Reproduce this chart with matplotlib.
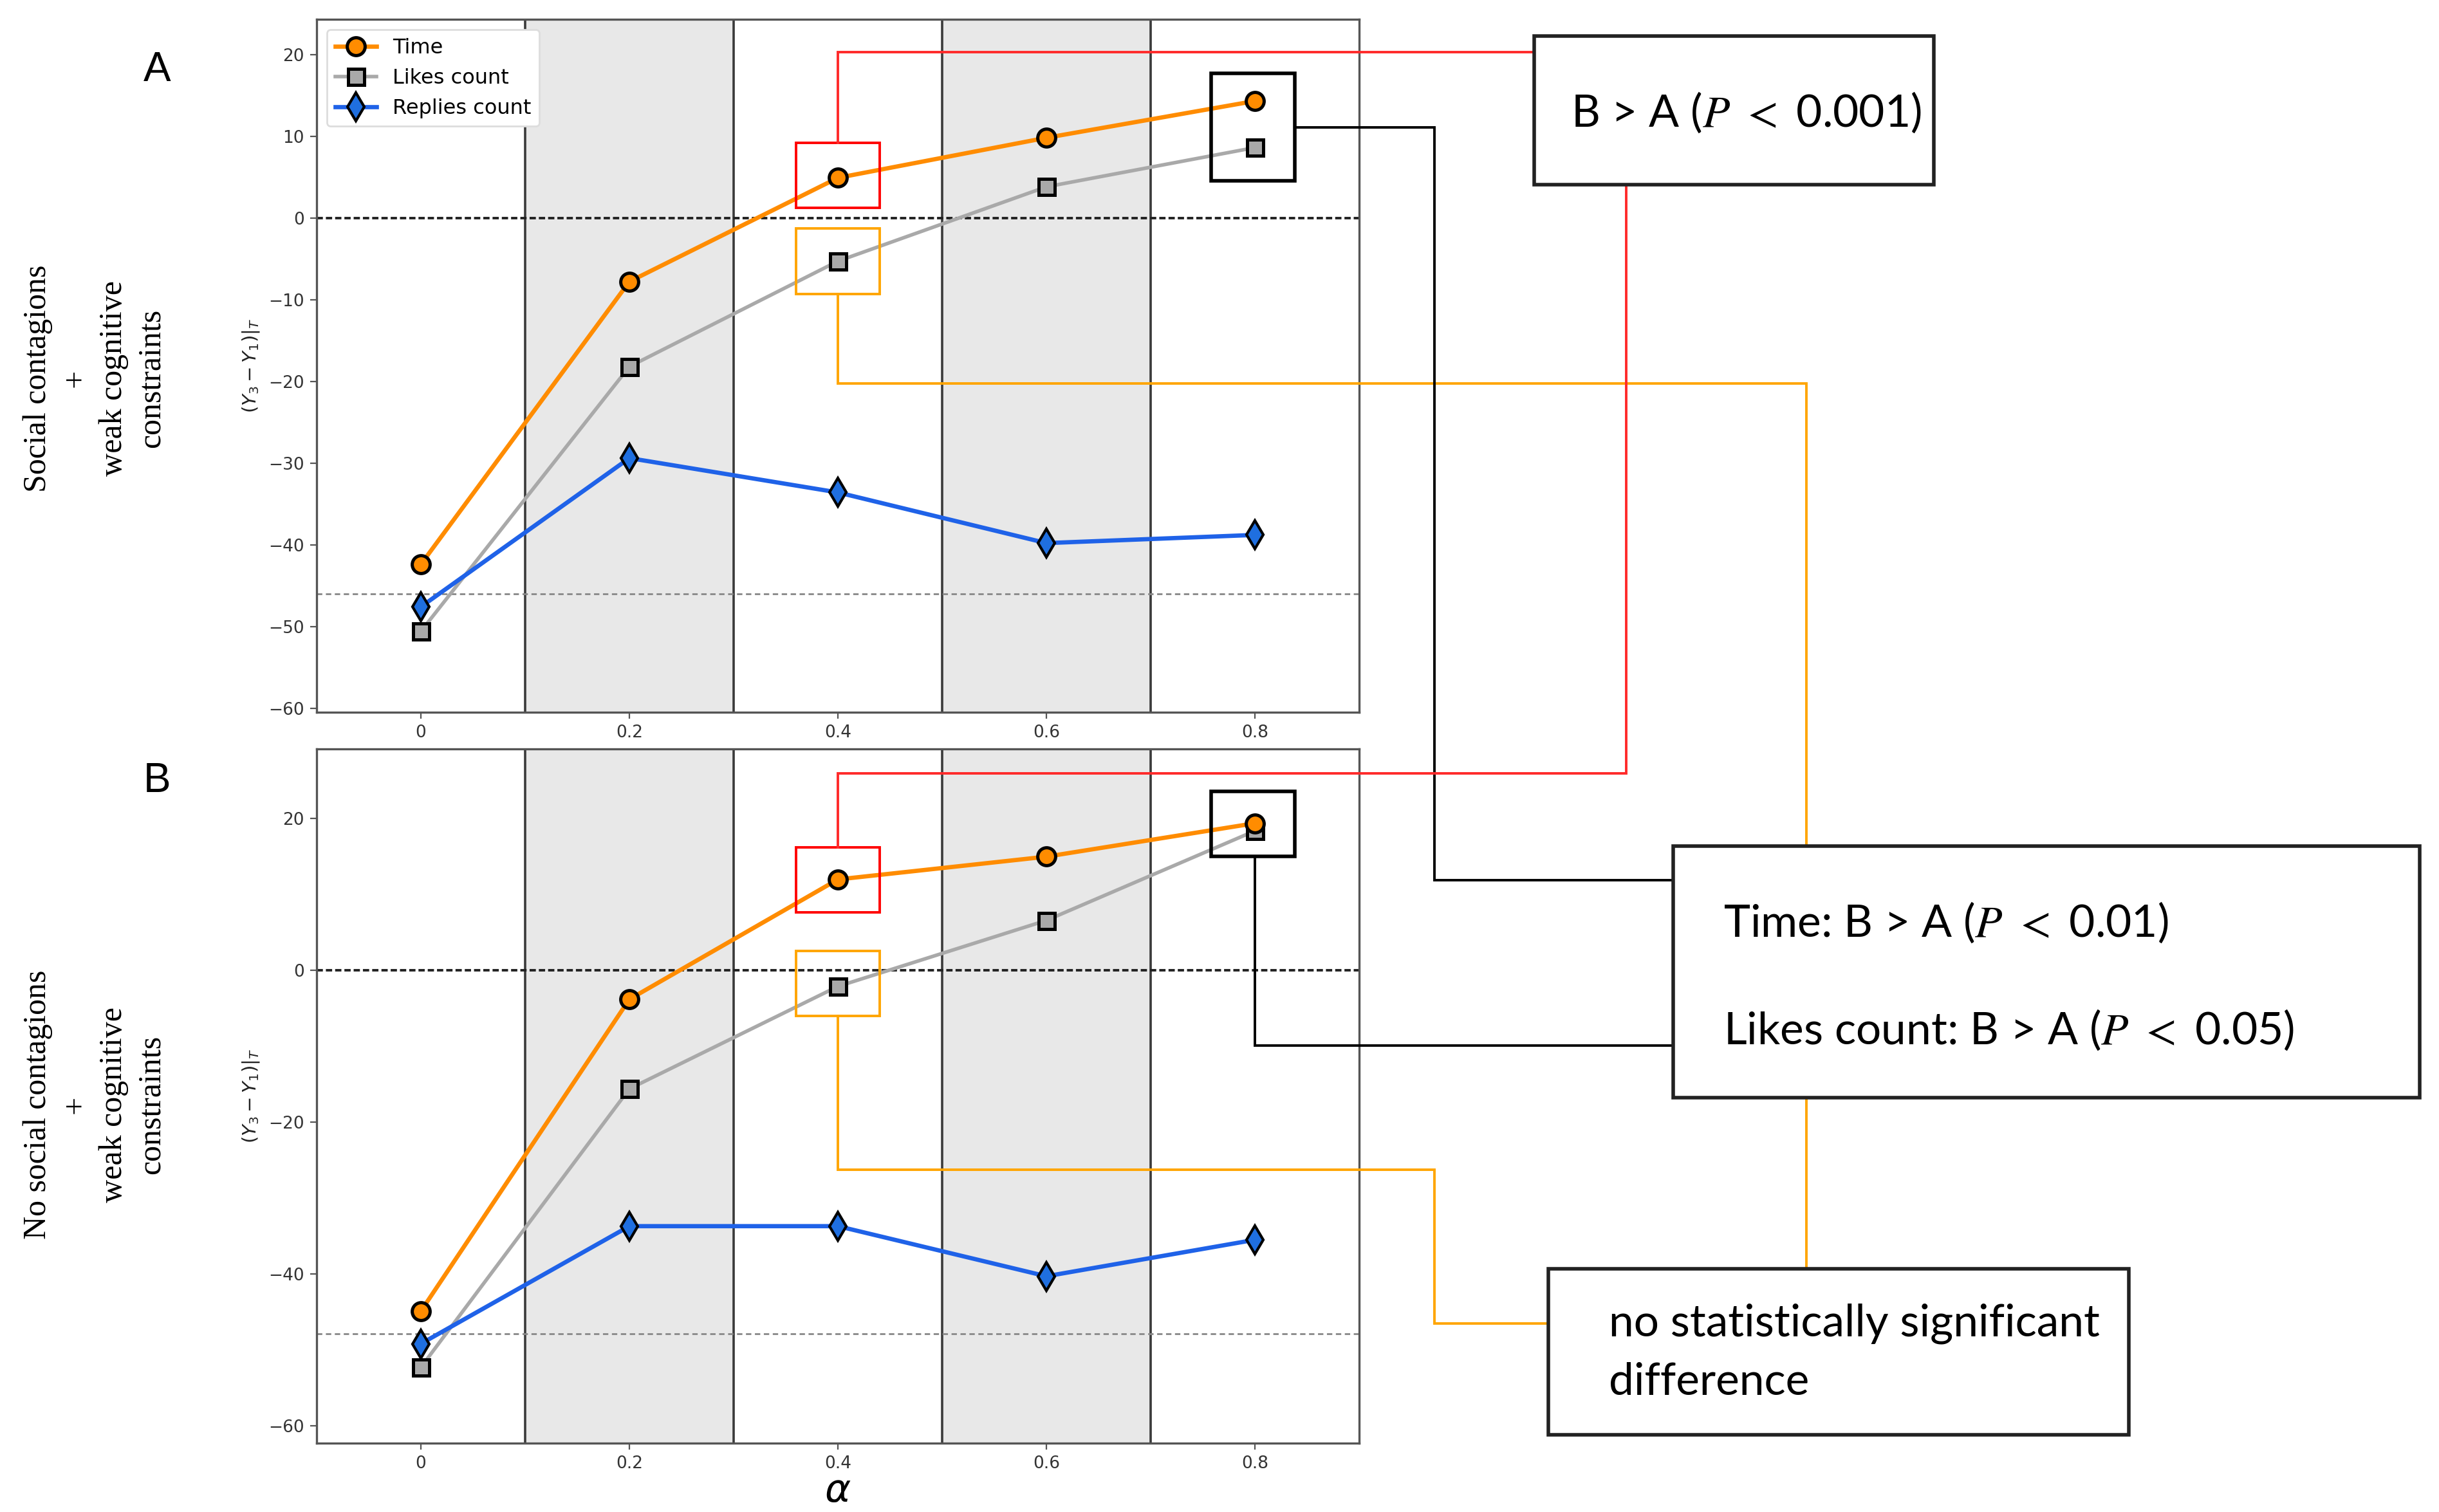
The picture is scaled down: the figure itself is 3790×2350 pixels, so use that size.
import matplotlib.pyplot as plt
from matplotlib.patches import Rectangle

# values
alpha = [0, 0.2, 0.4, 0.6, 0.8]
xtick_labels = ['0', '0.2', '0.4', '0.6', '0.8']

time_a = [-42.4, -7.8, 4.9, 9.8, 14.3]
likes_a = [-50.6, -18.2, -5.3, 3.8, 8.6]
replies_a = [-47.6, -29.4, -33.6, -39.8, -38.8]
base_a = -46.0

time_b = [-44.9, -3.8, 12.0, 15.0, 19.4]
likes_b = [-52.3, -15.6, -2.1, 6.6, 18.4]
replies_b = [-49.2, -33.7, -33.7, -40.3, -35.5]
base_b = -47.9

W, H = 3791, 2350
DPI = 200
fig = plt.figure(figsize=(W / DPI, H / DPI), dpi=DPI)

axA = fig.add_axes([492 / W, 1 - 1107 / H, 1620 / W, 1077 / H])
axB = fig.add_axes([492 / W, 1 - 2243 / H, 1620 / W, 1079 / H])


def panel(ax, t, l, r, base, ylim, yticks):
    for x0 in (0.1, 0.5):
        ax.axvspan(x0, x0 + 0.2, color='#e8e8e8', zorder=0)
    for xv in (0.1, 0.3, 0.5, 0.7):
        ax.axvline(xv, color='#3a3a3a', lw=1.3, zorder=1)
    ax.axhline(0, color='#222222', ls=(0, (2.5, 1.2)), lw=1.4, zorder=2)
    ax.axhline(base, color='#888888', ls=(0, (3, 2)), lw=1.0, zorder=2)
    ax.plot(alpha, t, '-o', color='darkorange', mfc='darkorange', mec='black',
            mew=1.8, ms=10, lw=2.4, label='Time', zorder=5)
    ax.plot(alpha, l, '-s', color='darkgray', mfc='darkgray', mec='black',
            mew=1.8, ms=9, lw=2.0, label='Likes count', zorder=4)
    ax.plot(alpha, r, '-d', color='#1f62e8', mfc='#1f6fe0', mec='black',
            mew=1.5, ms=11, lw=2.4, label='Replies count', zorder=4)
    ax.set_xlim(-0.1, 0.9)
    ax.set_ylim(*ylim)
    ax.set_xticks(alpha)
    ax.set_xticklabels(xtick_labels)
    ax.set_yticks(yticks)
    ax.tick_params(labelsize=9.5, labelcolor='#333333', color='#555555')
    ax.set_ylabel(r'$(Y_3 - Y_1)|_T$', fontsize=10.5, color='#222222', labelpad=4)
    for s in ax.spines.values():
        s.set_color('#555555')
        s.set_linewidth(1.2)


panel(axA, time_a, likes_a, replies_a, base_a, (-60.5, 24.3), range(-60, 21, 10))
panel(axB, time_b, likes_b, replies_b, base_b, (-62.3, 29.2), range(-60, 21, 20))
axA.legend(loc='upper left', fontsize=11.5, framealpha=1, edgecolor='#dddddd')
axB.set_xlabel(r'$\alpha$', fontsize=22, labelpad=0)

# boxes around the compared points (data coords)
boxes = [
    (axA, 0.36, 1.2, 0.08, 8.0, 'red'),
    (axA, 0.36, -9.3, 0.08, 8.0, 'orange'),
    (axA, 0.758, 4.5, 0.08, 13.2, 'black'),
    (axB, 0.36, 7.7, 0.08, 8.5, 'red'),
    (axB, 0.36, -6.0, 0.08, 8.6, 'orange'),
    (axB, 0.758, 15.0, 0.08, 8.6, 'black'),
]
for ax, x0, y0, w, h, c in boxes:
    ax.add_patch(Rectangle((x0, y0), w, h, fill=False, ec=c,
                           lw=2.0 if c == 'black' else 1.4, zorder=6, clip_on=False))

fig.canvas.draw()


def px(ax, x, y):
    X, Y = ax.transData.transform((x, y))
    return X, H - Y


ov = fig.add_axes([0, 0, 1, 1], zorder=10)
ov.set_xlim(0, W)
ov.set_ylim(H, 0)
ov.axis('off')


def path(pts, color, lw=1.4):
    xs = [p[0] for p in pts]
    ys = [p[1] for p in pts]
    ov.plot(xs, ys, color=color, lw=lw, solid_joinstyle='miter', zorder=1)


red_c = '#ff2a2a'
org_c = '#ffa500'
xa, ya = px(axA, 0.4, 9.2)
path([(xa, ya), (xa, 81), (2384, 81)], red_c)
xa, ya = px(axA, 0.4, -9.3)
path([(xa, ya), (xa, 596), (2807, 596), (2807, 1972)], org_c)
xa, _ = px(axA, 0.838, 0)
path([(xa, 198), (2229, 198), (2229, 1368), (2600, 1368)], 'black')
xb, yb = px(axB, 0.4, 16.2)
path([(xb, yb), (xb, 1202), (2527, 1202), (2527, 287)], red_c)
xb, yb = px(axB, 0.4, -6.0)
path([(xb, yb), (xb, 1818), (2229, 1818), (2229, 2057), (2406, 2057)], org_c)
xb, yb = px(axB, 0.8, 15.0)
path([(xb, yb), (xb, 1625), (2600, 1625)], 'black')

# result boxes
for x0, y0, x1, y1 in [(2384, 56, 3005, 287), (2600, 1315, 3760, 1706),
                       (2406, 1972, 3308, 2230)]:
    ov.add_patch(Rectangle((x0, y0), x1 - x0, y1 - y0, fc='white', ec='#222222',
                           lw=2.0, zorder=3))

tkw = dict(fontsize=25, family='Lato', va='center', ha='left', zorder=4,
           math_fontfamily='stix')
ov.text(2441, 175, 'B > A ($P$ $<$ 0.001)', **tkw)
ov.text(2678, 1434, 'Time: B > A ($P$ $<$ 0.01)', **tkw)
ov.text(2678, 1601, 'Likes count: B > A ($P$ $<$ 0.05)', **tkw)
ov.text(2500, 2057, 'no statistically significant', **tkw)
ov.text(2500, 2148, 'difference', **tkw)

# panel letters and row labels
ov.text(244, 109, 'A', fontsize=23, family='Liberation Sans', ha='center', va='center')
ov.text(244, 1214, 'B', fontsize=23, family='Liberation Sans', ha='center', va='center')
lkw = dict(fontsize=18, family='Liberation Serif', rotation=90, ha='center',
           va='center', multialignment='center', linespacing=1.35)
ov.text(147, 588, 'Social contagions\n+\nweak cognitive\nconstraints', **lkw)
ov.text(147, 1717, 'No social contagions\n+\nweak cognitive\nconstraints', **lkw)

fig.savefig('out.png', dpi=DPI)
